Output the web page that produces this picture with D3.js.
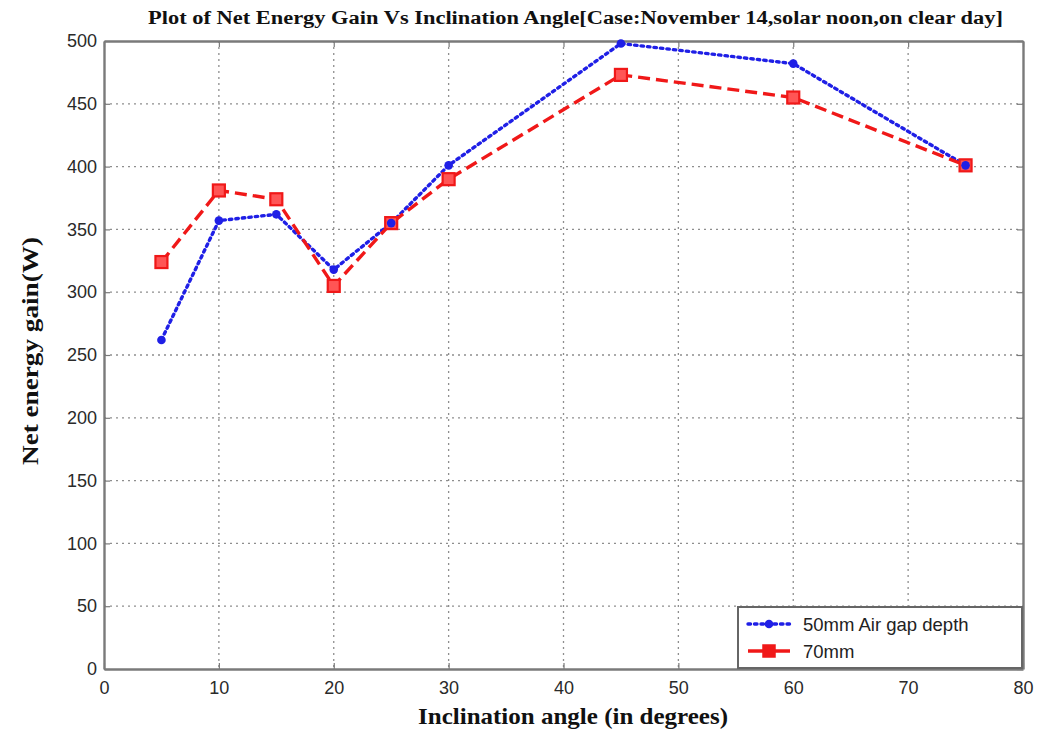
<!DOCTYPE html>
<html>
<head>
<meta charset="utf-8">
<script src="https://cdn.jsdelivr.net/npm/d3@7"></script>
<style>
  html, body { margin: 0; padding: 0; background: #fff; }
  svg { display: block; }
</style>
</head>
<body>
<svg id="chart" width="1039" height="729"></svg>
<script>
// Inclination angles (degrees) and net energy gain (W) for two air gap depths
const angles = [5, 10, 15, 20, 25, 30, 45, 60, 75];
const gain50mm = [262, 357, 362, 318, 355, 401, 498, 482, 401];
const gain70mm = [324, 381, 374, 305, 355, 390, 473, 455, 401];
const xTicks = [0, 10, 20, 30, 40, 50, 60, 70, 80];
const yTicks = [0, 50, 100, 150, 200, 250, 300, 350, 400, 450, 500];
const seriesNames = ["50mm Air gap depth", "70mm"];

const svg = d3.select("#chart");
const plot = { left: 104, right: 1023, top: 41, bottom: 669 };

const x = d3.scaleLinear().domain([0, 80]).range([plot.left, plot.right]);
const y = d3.scaleLinear().domain([0, 500]).range([plot.bottom, plot.top]);

// dotted grid
const grid = svg.append("g").attr("stroke", "#8e8e8e").attr("stroke-width", 1.3)
  .attr("stroke-dasharray", "2,4");
grid.selectAll("line.v").data(xTicks.slice(1, -1)).join("line")
  .attr("x1", d => x(d)).attr("x2", d => x(d))
  .attr("y1", plot.top).attr("y2", plot.bottom);
grid.selectAll("line.h").data(yTicks.slice(1, -1)).join("line")
  .attr("x1", plot.left).attr("x2", plot.right)
  .attr("y1", d => y(d)).attr("y2", d => y(d));

// axes with inward ticks
const axisColor = "#7a7a7a";
const fontTick = "'Liberation Sans', Arial, sans-serif";
const xAxis = svg.append("g").attr("transform", `translate(0,${plot.bottom})`)
  .call(d3.axisBottom(x).tickValues(xTicks).tickSize(-6).tickPadding(12).tickSizeOuter(0));
const yAxis = svg.append("g").attr("transform", `translate(${plot.left},0)`)
  .call(d3.axisLeft(y).tickValues(yTicks).tickSize(-6).tickPadding(7).tickSizeOuter(0));
const xTop = svg.append("g").attr("transform", `translate(0,${plot.top})`)
  .call(d3.axisTop(x).tickValues(xTicks).tickSize(-6).tickFormat("").tickSizeOuter(0));
const yRight = svg.append("g").attr("transform", `translate(${plot.right},0)`)
  .call(d3.axisRight(y).tickValues(yTicks).tickSize(-6).tickFormat("").tickSizeOuter(0));
[xAxis, yAxis, xTop, yRight].forEach(g => {
  g.select(".domain").attr("stroke", axisColor).attr("stroke-width", 2.4);
  g.selectAll(".tick line").attr("stroke", axisColor).attr("stroke-width", 1.2);
  g.selectAll(".tick text").attr("fill", "#2a2a2a")
    .attr("font-family", fontTick).attr("font-size", 18);
});

// series lines and markers
const line = d3.line().x(d => x(d[0])).y(d => y(d[1]));
const pts50 = angles.map((a, i) => [a, gain50mm[i]]);
const pts70 = angles.map((a, i) => [a, gain70mm[i]]);
const blue = "#1f1fe6", red = "#f01818";

svg.append("path").datum(pts50).attr("d", line)
  .attr("fill", "none").attr("stroke", blue).attr("stroke-width", 3.4)
  .attr("stroke-dasharray", "2.5,4").attr("stroke-linecap", "round");
svg.append("path").datum(pts70).attr("d", line)
  .attr("fill", "none").attr("stroke", red).attr("stroke-width", 3.4)
  .attr("stroke-dasharray", "12,6");

svg.append("g").selectAll("rect").data(pts70).join("rect")
  .attr("x", d => x(d[0]) - 6).attr("y", d => y(d[1]) - 6)
  .attr("width", 12).attr("height", 12)
  .attr("fill", "#ff5555").attr("stroke", red).attr("stroke-width", 2.2);
svg.append("g").selectAll("circle").data(pts50).join("circle")
  .attr("cx", d => x(d[0])).attr("cy", d => y(d[1])).attr("r", 4.3)
  .attr("fill", blue);

// title and axis labels
const serif = "'Liberation Serif', 'Times New Roman', serif";
svg.append("text").attr("x", 148).attr("y", 24)
  .attr("font-family", serif).attr("font-weight", "bold").attr("font-size", 18)
  .attr("fill", "#111").attr("textLength", 855).attr("lengthAdjust", "spacingAndGlyphs")
  .text("Plot of Net Energy Gain Vs Inclination Angle[Case:November 14,solar noon,on clear day]");
svg.append("text").attr("x", 418).attr("y", 724)
  .attr("font-family", serif).attr("font-weight", "bold").attr("font-size", 23)
  .attr("fill", "#111").attr("textLength", 310).attr("lengthAdjust", "spacingAndGlyphs")
  .text("Inclination angle (in degrees)");
svg.append("text").attr("transform", "translate(38,465) rotate(-90)")
  .attr("font-family", serif).attr("font-weight", "bold").attr("font-size", 23)
  .attr("fill", "#111").attr("textLength", 228).attr("lengthAdjust", "spacingAndGlyphs")
  .text("Net energy gain(W)");

// legend
const lg = svg.append("g");
lg.append("rect").attr("x", 738).attr("y", 607).attr("width", 284).attr("height", 61)
  .attr("fill", "#fff").attr("stroke", "#666").attr("stroke-width", 2);
const rows = [
  { name: seriesNames[0], color: blue, dash: "2.5,4", cap: "round", marker: "circle" },
  { name: seriesNames[1], color: red, dash: null, cap: "butt", marker: "square" }
];
rows.forEach((r, i) => {
  const cy = 624 + i * 27;
  lg.append("line").attr("x1", 748).attr("x2", 790).attr("y1", cy).attr("y2", cy)
    .attr("stroke", r.color).attr("stroke-width", 3.4)
    .attr("stroke-dasharray", r.dash).attr("stroke-linecap", r.cap);
  if (r.marker === "circle") {
    lg.append("circle").attr("cx", 769).attr("cy", cy).attr("r", 4.3).attr("fill", r.color);
  } else {
    lg.append("rect").attr("x", 763).attr("y", cy - 6).attr("width", 12).attr("height", 12)
      .attr("fill", r.color).attr("stroke", r.color).attr("stroke-width", 1.5);
  }
  lg.append("text").attr("x", 803).attr("y", cy + 6.5)
    .attr("font-family", fontTick).attr("font-size", 18.5).attr("fill", "#222").text(r.name);
});
</script>
</body>
</html>
